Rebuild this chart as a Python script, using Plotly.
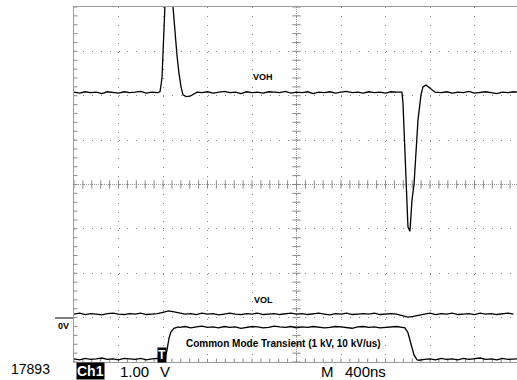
import numpy as np
import plotly.graph_objects as go

# ---------------- data (time in ns, amplitude in divisions, 1.00 V/div, 400 ns/div) ----------------
VOH_T = (list(range(0, 800, 50))
         + [773, 791, 809, 822, 845, 872, 890, 908, 926, 944, 962, 980, 1007, 1043, 1079, 1106]
         + list(range(1150, 2950, 50))
         + [2948, 2957, 2984, 3002, 3020, 3038, 3056, 3092, 3119, 3137, 3164, 3200, 3245]
         + list(range(3300, 4000, 50)) + [3982])
VOH_V = ([2.08, 2.06, 2.09, 2.07, 2.08, 2.05, 2.09, 2.08, 2.06, 2.09, 2.07, 2.08, 2.10, 2.06, 2.08, 2.07]
         + [2.09, 2.40, 3.50, 4.30, 4.75, 4.50, 4.00, 3.40, 2.90, 2.50, 2.20, 2.02, 1.98, 1.99, 2.04, 2.08]
         + [2.07, 2.09, 2.06, 2.08, 2.10, 2.07, 2.08, 2.05, 2.09, 2.07,
            2.08, 2.06, 2.09, 2.08, 2.07, 2.10, 2.06, 2.08, 2.07, 2.09,
            2.05, 2.08, 2.07, 2.09, 2.06, 2.08, 2.10, 2.07, 2.08, 2.06,
            2.09, 2.07, 2.08, 2.06, 2.09, 2.08]
         + [2.08, 1.84, -0.06, -0.96, -1.05, -0.35, -0.01, 1.45, 2.02, 2.20, 2.24, 2.17, 2.08]
         + [2.07, 2.09, 2.06, 2.08, 2.07, 2.10, 2.06, 2.08, 2.09, 2.07, 2.05, 2.08, 2.07, 2.09, 2.08])

VOL_T = list(range(0, 4000, 50))
VOL_V = ([-2.92, -2.90, -2.93, -2.91, -2.92, -2.94, -2.91, -2.90, -2.92, -2.93, -2.91, -2.92, -2.90, -2.93, -2.92, -2.91]
         + [-2.88, -2.85, -2.87, -2.90]
         + [-2.92, -2.91, -2.93, -2.90, -2.92, -2.91, -2.94, -2.92, -2.90, -2.92,
            -2.93, -2.91, -2.92, -2.90, -2.93, -2.92, -2.91, -2.93, -2.92, -2.90]
         + [-2.92, -2.91, -2.93, -2.92, -2.90, -2.92, -2.94, -2.91, -2.92, -2.90,
            -2.93, -2.92, -2.91, -2.92, -2.90, -2.93, -2.92, -2.91, -2.92]
         + [-2.96, -2.99, -2.97, -2.94]
         + [-2.92, -2.90, -2.93, -2.91, -2.92, -2.90, -2.93, -2.92, -2.91, -2.93,
            -2.90, -2.92, -2.91, -2.93, -2.92, -2.90, -2.92])

CMT_T = (list(range(0, 850, 50))
         + [818, 836, 854, 872, 899, 935]
         + list(range(950, 3000, 50))
         + [2975, 3002, 3029, 3056, 3083]
         + list(range(3100, 4000, 50)) + [3982])
CMT_V = ([-3.93, -3.95, -3.92, -3.94, -3.93, -3.91, -3.94, -3.93, -3.95, -3.92, -3.93, -3.94, -3.92, -3.95, -3.93, -3.92, -3.93]
         + [-3.93, -3.73, -3.46, -3.32, -3.24, -3.21]
         + [-3.22, -3.20, -3.23, -3.21, -3.19, -3.22, -3.21, -3.23, -3.20, -3.22,
            -3.21, -3.24, -3.22, -3.20, -3.21, -3.23, -3.22, -3.19, -3.21, -3.22,
            -3.20, -3.23, -3.21, -3.22, -3.20, -3.21, -3.23, -3.22, -3.20, -3.21,
            -3.22, -3.24, -3.21, -3.20, -3.22, -3.21, -3.23, -3.22, -3.21, -3.20, -3.22]
         + [-3.23, -3.34, -3.61, -3.84, -3.95]
         + [-3.96, -3.94, -3.93, -3.95, -3.92, -3.94, -3.93, -3.95, -3.92, -3.94,
            -3.93, -3.91, -3.94, -3.93, -3.95, -3.92, -3.94, -3.93, -3.93])

NS_PER_DIV = 400
X_MAX = 443 / 44.5 * NS_PER_DIV   # visible part of the 10-division screen

# ---------------- figure ----------------
W, H = 517, 380
L, R, T, B = 74, 0, 7, 18
PW, PH = W - L - R, H - T - B


def px(x):
    return (x - L) / PW


def py(y):
    return (H - B - y) / PH


fig = go.Figure()

GRID = "#8a8a8a"

# center-line tick marks (graticule decoration)
tx = np.arange(0, X_MAX, NS_PER_DIV / 5)
ty = np.arange(-4, 4.001, 0.2)
fig.add_trace(go.Scatter(x=tx, y=np.zeros_like(tx), mode="markers", hoverinfo="skip",
                         marker=dict(symbol="line-ns", size=6, line=dict(color=GRID, width=1))))
fig.add_trace(go.Scatter(x=np.full_like(ty, 5 * NS_PER_DIV), y=ty, mode="markers", hoverinfo="skip",
                         marker=dict(symbol="line-ew", size=6, line=dict(color=GRID, width=1))))
fig.add_trace(go.Scatter(x=np.zeros_like(ty), y=ty, mode="markers", hoverinfo="skip",
                         marker=dict(symbol="line-ew", size=5, line=dict(color=GRID, width=1))))
fig.add_trace(go.Scatter(x=tx, y=np.full_like(tx, -4), mode="markers", hoverinfo="skip",
                         marker=dict(symbol="line-ns", size=5, line=dict(color=GRID, width=1))))

for t_, v_ in ((VOH_T, VOH_V), (VOL_T, VOL_V), (CMT_T, CMT_V)):
    fig.add_trace(go.Scatter(x=t_, y=v_, mode="lines", hoverinfo="skip",
                             line=dict(color="black", width=1.3)))

shapes = [
    dict(type="line", xref="x", yref="y", x0=5 * NS_PER_DIV, x1=5 * NS_PER_DIV, y0=-4, y1=4,
         line=dict(color="#9a9a9a", width=1, dash="1px,1px"), layer="below"),
    dict(type="line", xref="x", yref="y", x0=0, x1=X_MAX, y0=0, y1=0,
         line=dict(color="#9a9a9a", width=1, dash="1px,1px"), layer="below"),
    dict(type="line", xref="paper", yref="paper", x0=px(55), x1=px(73), y0=py(318), y1=py(318),
         line=dict(color="black", width=1)),
]

FONT = "Liberation Sans, Arial, sans-serif"


def ann(text, x, y, size, color="black", bold=False, bg=None, pad=0):
    return dict(text=f"<b>{text}</b>" if bold else text, x=px(x), y=py(y), xref="paper", yref="paper",
                xanchor="center", yanchor="middle", showarrow=False,
                font=dict(family=FONT, size=size, color=color),
                bgcolor=bg, borderpad=pad)


annotations = [
    ann("VOH", 263, 77, 9, bold=True),
    ann("VOL", 263, 300, 9, bold=True),
    ann("Common Mode Transient (1 kV, 10 kV/us)", 283, 343, 10, bold=True),
    ann("0V", 63, 326, 9, bold=True),
    ann("17893", 30, 369, 14),
    ann("Ch1", 90, 371, 14, color="white", bold=True, bg="black", pad=0),
    ann("1.00", 134, 371, 15),
    ann("V", 165, 371, 15),
    ann("M", 327, 371, 15),
    ann("400ns", 365, 371, 15),
    ann("T", 162, 355, 12, color="white", bold=True, bg="black", pad=0),
]

fig.update_layout(
    width=W, height=H, margin=dict(l=L, r=R, t=T, b=B, pad=0),
    paper_bgcolor="white", plot_bgcolor="white", showlegend=False,
    shapes=shapes, annotations=annotations,
    xaxis=dict(range=[0, X_MAX], dtick=NS_PER_DIV, tick0=0, showgrid=True, gridcolor=GRID,
               griddash="1px,7.9px", gridwidth=1, zeroline=False, showticklabels=False, ticks="",
               showline=True, mirror=True, linecolor="#9a9a9a", linewidth=1, fixedrange=True),
    yaxis=dict(range=[-4, 4], dtick=1, tick0=0, showgrid=True, gridcolor=GRID,
               griddash="1px,7.9px", gridwidth=1, zeroline=False, showticklabels=False, ticks="",
               showline=True, linecolor="#9a9a9a", linewidth=1, fixedrange=True),
)

fig.write_html("out.html")
